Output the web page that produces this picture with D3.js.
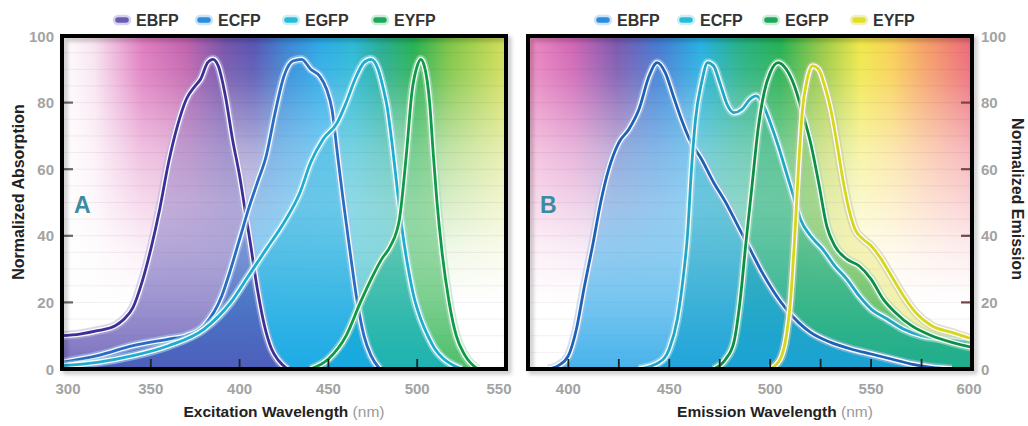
<!DOCTYPE html>
<html>
<head>
<meta charset="utf-8">
<script src="https://cdn.jsdelivr.net/npm/d3@7"></script>
<style>
  body { margin: 0; background: #fff; }
  svg { display: block; font-family: "Liberation Sans", Arial, sans-serif; }
</style>
</head>
<body>
<svg id="chart" width="1028" height="426"></svg>
<script>
const proteins = ["EBFP", "ECFP", "EGFP", "EYFP"];

// excitation spectra (nm, normalized absorption)
const exEBFP = [[300,10],[310,10.5],[320,11.5],[330,13],[335,15],[340,18.5],[345,26],[350,36],[355,48],[360,62],[365,73],[370,81],[375,85],[378,87],[382,92],[385,93],[388,91],[392,82],[396,69],[400,58],[403,48],[406,38],[410,24],[414,13],[418,6],[422,2.5],[427,0]];
const exECFP = [[300,2],[320,4],[340,7],[360,9],[370,10],[380,13],[390,22],[395,30],[400,39],[405,48],[410,56],[415,64],[420,77],[425,88],[430,92.5],[435,93],[440,90],[445,88],[449,84],[452,78],[455,65],[458,52],[462,36],[466,21],[470,10],[474,4],[479,0]];
const exEGFP = [[300,1],[320,2],[340,4],[360,7],[380,12],[395,20],[405,28],[415,36],[425,44],[434,53],[440,62],[447,69],[455,74],[460,80],[465,87],[470,92],[474,93],[478,90],[481,84],[483,79],[486,67],[489,53],[492,40],[495,30],[498,22],[502,15],[506,10],[510,6],[515,3],[520,1.2],[525,0]];
const exEYFP = [[440,0],[450,3],[460,10],[468,20],[475,28],[480,33],[485,37],[490,45],[494,65],[497,83],[500,91],[502,93],[504,91],[507,80],[509,65],[511,51],[514,35],[518,20],[522,10],[527,4],[534,0]];

// emission spectra (nm, normalized emission)
const emEBFP = [[390,0],[395,1],[400,4],[404,12],[408,25],[412,37],[416,50],[420,60],[425,68],[430,72],[435,78],[440,88],[444,92],[448,89],[452,82],[456,75],[460,69],[466,63],[472,56],[478,50],[484,43],[490,36],[496,29],[502,23],[508,18],[514,14],[520,11],[530,8],[540,6],[550,4.5],[560,3],[570,1.5],[580,0.5],[590,0]];
const emECFP = [[435,0],[445,2],[450,6],[454,15],[457,28],[459,40],[461,60],[463,75],[466,86],[469,92],[472,91],[475,86],[479,79],[482,77],[486,78],[490,81],[493,82],[496,80],[500,74],[504,67],[508,59],[512,51],[515,45],[520,40],[526,36],[532,31],[538,27],[544,22],[550,18],[558,15],[566,12],[575,10],[585,9],[600,8]];
const emEGFP = [[472,0],[478,3],[482,8],[485,20],[488,38],[491,55],[494,72],[497,83],[500,89],[504,92],[508,90],[512,85],[516,77],[520,68],[524,56],[528,43],[532,37],[538,33],[544,31],[550,27],[556,21],[562,17],[570,13],[580,10],[590,8],[600,6.5]];
const emEYFP = [[500,0],[505,3],[508,10],[510,20],[512,38],[514,60],[516,78],[518,86],[521,91],[524,90],[527,85],[530,78],[533,68],[536,57],[539,48],[542,42],[546,39],[550,37],[555,33],[560,28],[566,22],[572,17],[580,13],[590,11],[600,9]];

const ticksY = [0, 20, 40, 60, 80, 100];
const ticksExX = [300, 350, 400, 450, 500, 550];
const ticksEmX = [400, 450, 500, 550, 600];
const minorEmX = [400, 425, 450, 475, 500, 525, 550, 575];

// spectrum colours behind each panel
const specA = [[300,"#ffffff"],[318,"#f8e4f0"],[345,"#e07cc0"],[370,"#c060ac"],[392,"#7252aa"],[408,"#5552b2"],[426,"#3a82d2"],[446,"#28aae6"],[464,"#28b8d6"],[480,"#24ac92"],[498,"#22b050"],[518,"#7cc444"],[550,"#d4de56"]];
const specB = [[380,"#ec88c0"],[402,"#d064b4"],[424,"#7a56ae"],[444,"#4476d0"],[466,"#22b0e2"],[485,"#22b084"],[505,"#22b050"],[525,"#94c844"],[545,"#f0e848"],[560,"#f8d052"],[575,"#f6a462"],[600,"#ec6478"]];

const svg = d3.select("#chart");
const defs = svg.append("defs");
const y = d3.scaleLinear().domain([0, 100]).range([369, 36]);

const shadow = defs.append("filter").attr("id", "shadow").attr("x", "-5%").attr("y", "-5%").attr("width", "110%").attr("height", "110%");
shadow.append("feDropShadow").attr("dx", 3).attr("dy", 3).attr("stdDeviation", 2).attr("flood-color", "#000").attr("flood-opacity", 0.25);

function drawPanel(p) {
  const x = d3.scaleLinear().domain(p.domain).range(p.range);
  const [x0, x1] = p.range;
  const y0 = y(100), y1 = y(0);
  const g = svg.append("g");

  defs.append("clipPath").attr("id", "clip" + p.id)
    .append("rect").attr("x", x0).attr("y", y0).attr("width", x1 - x0).attr("height", y1 - y0);

  const spec = defs.append("linearGradient").attr("id", "spec" + p.id)
    .attr("gradientUnits", "userSpaceOnUse").attr("x1", x0).attr("x2", x1).attr("y1", 0).attr("y2", 0);
  p.spec.forEach(([nm, c]) => spec.append("stop").attr("offset", (x(nm) - x0) / (x1 - x0)).attr("stop-color", c));

  const fade = defs.append("linearGradient").attr("id", "fade" + p.id)
    .attr("gradientUnits", "userSpaceOnUse").attr("x1", 0).attr("x2", 0).attr("y1", y0).attr("y2", y1);
  [[0, 0], [0.12, 0.12], [0.34, 0.52], [0.64, 0.88], [0.8, 1], [1, 1]].forEach(([o, a]) =>
    fade.append("stop").attr("offset", o).attr("stop-color", "#fff").attr("stop-opacity", a));

  const inner = g.append("g").attr("clip-path", `url(#clip${p.id})`);
  inner.append("rect").attr("x", x0).attr("y", y0).attr("width", x1 - x0).attr("height", y1 - y0).attr("fill", `url(#spec${p.id})`);
  inner.append("rect").attr("x", x0).attr("y", y0).attr("width", x1 - x0).attr("height", y1 - y0).attr("fill", `url(#fade${p.id})`);

  inner.append("g").selectAll("line")
    .data(d3.range(5, 100, 5))
    .join("line")
    .attr("x1", x0).attr("x2", x1)
    .attr("y1", d => y(d)).attr("y2", d => y(d))
    .attr("stroke", "#602040").attr("stroke-opacity", 0.07).attr("stroke-width", 1);

  const area = d3.area().x(d => x(d[0])).y0(y(0)).y1(d => y(d[1])).curve(d3.curveMonotoneX);
  const line = d3.line().x(d => x(d[0])).y(d => y(d[1])).curve(d3.curveMonotoneX);

  // fills: longest wavelength at the back
  p.series.slice().reverse().forEach((s, j) => {
    const i = p.series.length - 1 - j;
    const gr = defs.append("linearGradient").attr("id", `fill${p.id}${i}`)
      .attr("gradientUnits", "userSpaceOnUse").attr("x1", 0).attr("x2", 0).attr("y1", y0).attr("y2", y1);
    gr.append("stop").attr("offset", 0).attr("stop-color", s.fill).attr("stop-opacity", 0.14 * s.k);
    gr.append("stop").attr("offset", 0.5).attr("stop-color", s.fill).attr("stop-opacity", 0.3 * s.k);
    gr.append("stop").attr("offset", 1).attr("stop-color", s.fill).attr("stop-opacity", 0.8 * s.k);
    inner.append("path").datum(s.data).attr("d", area).attr("fill", `url(#fill${p.id}${i})`);
  });

  p.series.forEach(s => {
    inner.append("path").datum(s.data).attr("d", line).attr("fill", "none")
      .attr("stroke", s.glow).attr("stroke-opacity", 0.55).attr("stroke-width", 9);
    inner.append("path").datum(s.data).attr("d", line).attr("fill", "none")
      .attr("stroke", "#fff").attr("stroke-opacity", 0.95).attr("stroke-width", 5.5);
    inner.append("path").datum(s.data).attr("d", line).attr("fill", "none")
      .attr("stroke", s.line).attr("stroke-width", 2.8);
  });

  // x ticks inside the frame
  g.append("g").selectAll("line")
    .data(p.innerTicks)
    .join("line")
    .attr("x1", d => x(d)).attr("x2", d => x(d))
    .attr("y1", y1).attr("y2", y1 - 10)
    .attr("stroke", "#222").attr("stroke-width", 1.8);

  // y ticks inside the frame
  const tx = p.yside === "left" ? x0 : x1;
  const dir = p.yside === "left" ? 1 : -1;
  g.append("g").selectAll("line")
    .data([20, 40, 60, 80])
    .join("line")
    .attr("x1", tx).attr("x2", tx + dir * 11)
    .attr("y1", d => y(d)).attr("y2", d => y(d))
    .attr("stroke", p.yside === "left" ? "#666" : "#744").attr("stroke-width", 2.2);

  g.append("rect").attr("x", x0).attr("y", y0).attr("width", x1 - x0).attr("height", y1 - y0)
    .attr("fill", "none").attr("stroke", "#000").attr("stroke-width", 4).attr("filter", "url(#shadow)");

  // tick labels
  g.append("g").selectAll("text")
    .data(p.xTicks)
    .join("text")
    .attr("x", (d, i) => x(d) + (p.xNudge[i] || 0))
    .attr("y", 394)
    .attr("text-anchor", "middle")
    .attr("font-size", 15).attr("font-weight", "bold").attr("fill", "#a3a3a3")
    .text(d => d);

  g.append("g").selectAll("text")
    .data(ticksY)
    .join("text")
    .attr("x", p.yside === "left" ? x0 - 8 : x1 + 9)
    .attr("y", d => y(d) + 5.5)
    .attr("text-anchor", p.yside === "left" ? "end" : "start")
    .attr("font-size", 15).attr("font-weight", "bold").attr("fill", "#a3a3a3")
    .text(d => d);

  // panel letter
  g.append("text").attr("x", x0 + 12).attr("y", 213)
    .attr("font-size", 23).attr("font-weight", "bold").attr("fill", "#3b8ba2")
    .text(p.id);

  // x title
  const xt = g.append("text").attr("x", p.titleX).attr("y", 417).attr("text-anchor", "middle")
    .attr("font-size", 15.5).attr("font-weight", "bold").attr("fill", "#222");
  xt.append("tspan").text(p.xTitle + " ");
  xt.append("tspan").attr("fill", "#999").attr("font-weight", "normal").text("(nm)");

  // y title
  g.append("text")
    .attr("transform", `translate(${p.yTitleX},${p.yTitleY}) rotate(${p.yside === "left" ? -90 : 90})`)
    .attr("text-anchor", "middle")
    .attr("font-size", 16).attr("font-weight", "bold").attr("fill", "#222")
    .text(p.yTitle);

  // legend
  const leg = g.append("g");
  p.series.forEach((s, i) => {
    const lx = p.legendX[i];
    leg.append("rect").attr("x", lx).attr("y", 16).attr("width", 16).attr("height", 8).attr("rx", 4)
      .attr("fill", s.swatch).attr("stroke", s.halo).attr("stroke-width", 2.5);
    leg.append("text").attr("x", lx + 22).attr("y", 26)
      .attr("font-size", 16).attr("font-weight", "bold").attr("fill", "#333")
      .text(proteins[i]);
  });
}

drawPanel({
  id: "A",
  domain: [300, 550], range: [62, 506],
  spec: specA,
  xTicks: ticksExX, xNudge: [6, 0, 0, 0, 0, -7],
  innerTicks: [350, 400, 450, 500],
  yside: "left", yTitleX: 24, yTitleY: 192, yTitle: "Normalized Absorption",
  xTitle: "Excitation Wavelength", titleX: 284,
  legendX: [114, 196, 283, 372],
  series: [
    { data: exEBFP, k: 1, fill: "#5a4cb0", line: "#3c3092", glow: "#b8b0e0", swatch: "#6a5cb5", halo: "#d6d2ee" },
    { data: exECFP, k: 1, fill: "#16a6ec", line: "#2a6cc0", glow: "#a8c8f0", swatch: "#2a8ee0", halo: "#cfe2f6" },
    { data: exEGFP, k: 1, fill: "#12b0c4", line: "#1eacd0", glow: "#a8e4ee", swatch: "#27bcd8", halo: "#cdeef4" },
    { data: exEYFP, k: 1, fill: "#20ae42", line: "#0f9a48", glow: "#a8dcb8", swatch: "#1aa85a", halo: "#cdebd8" }
  ]
});

drawPanel({
  id: "B",
  domain: [380, 600], range: [528, 972],
  spec: specB,
  xTicks: ticksEmX, xNudge: [0, 0, 0, 0, -3],
  innerTicks: minorEmX,
  yside: "right", yTitleX: 1012, yTitleY: 199, yTitle: "Normalized Emission",
  xTitle: "Emission Wavelength", titleX: 775,
  legendX: [595, 678, 763, 851],
  series: [
    { data: emEBFP, k: 1, fill: "#1a9fe6", line: "#1f62b4", glow: "#b0c0e8", swatch: "#2a8ee0", halo: "#cfe2f6" },
    { data: emECFP, k: 1, fill: "#14ac9c", line: "#22a6c6", glow: "#a8e0ea", swatch: "#27bcd8", halo: "#cdeef4" },
    { data: emEGFP, k: 1, fill: "#22a846", line: "#0f8e46", glow: "#a8dcb8", swatch: "#1aa85a", halo: "#cdebd8" },
    { data: emEYFP, k: 0.7, fill: "#e0dc40", line: "#d6d61a", glow: "#c8c8a8", swatch: "#e2e022", halo: "#efefc4" }
  ]
});
</script>
</body>
</html>
